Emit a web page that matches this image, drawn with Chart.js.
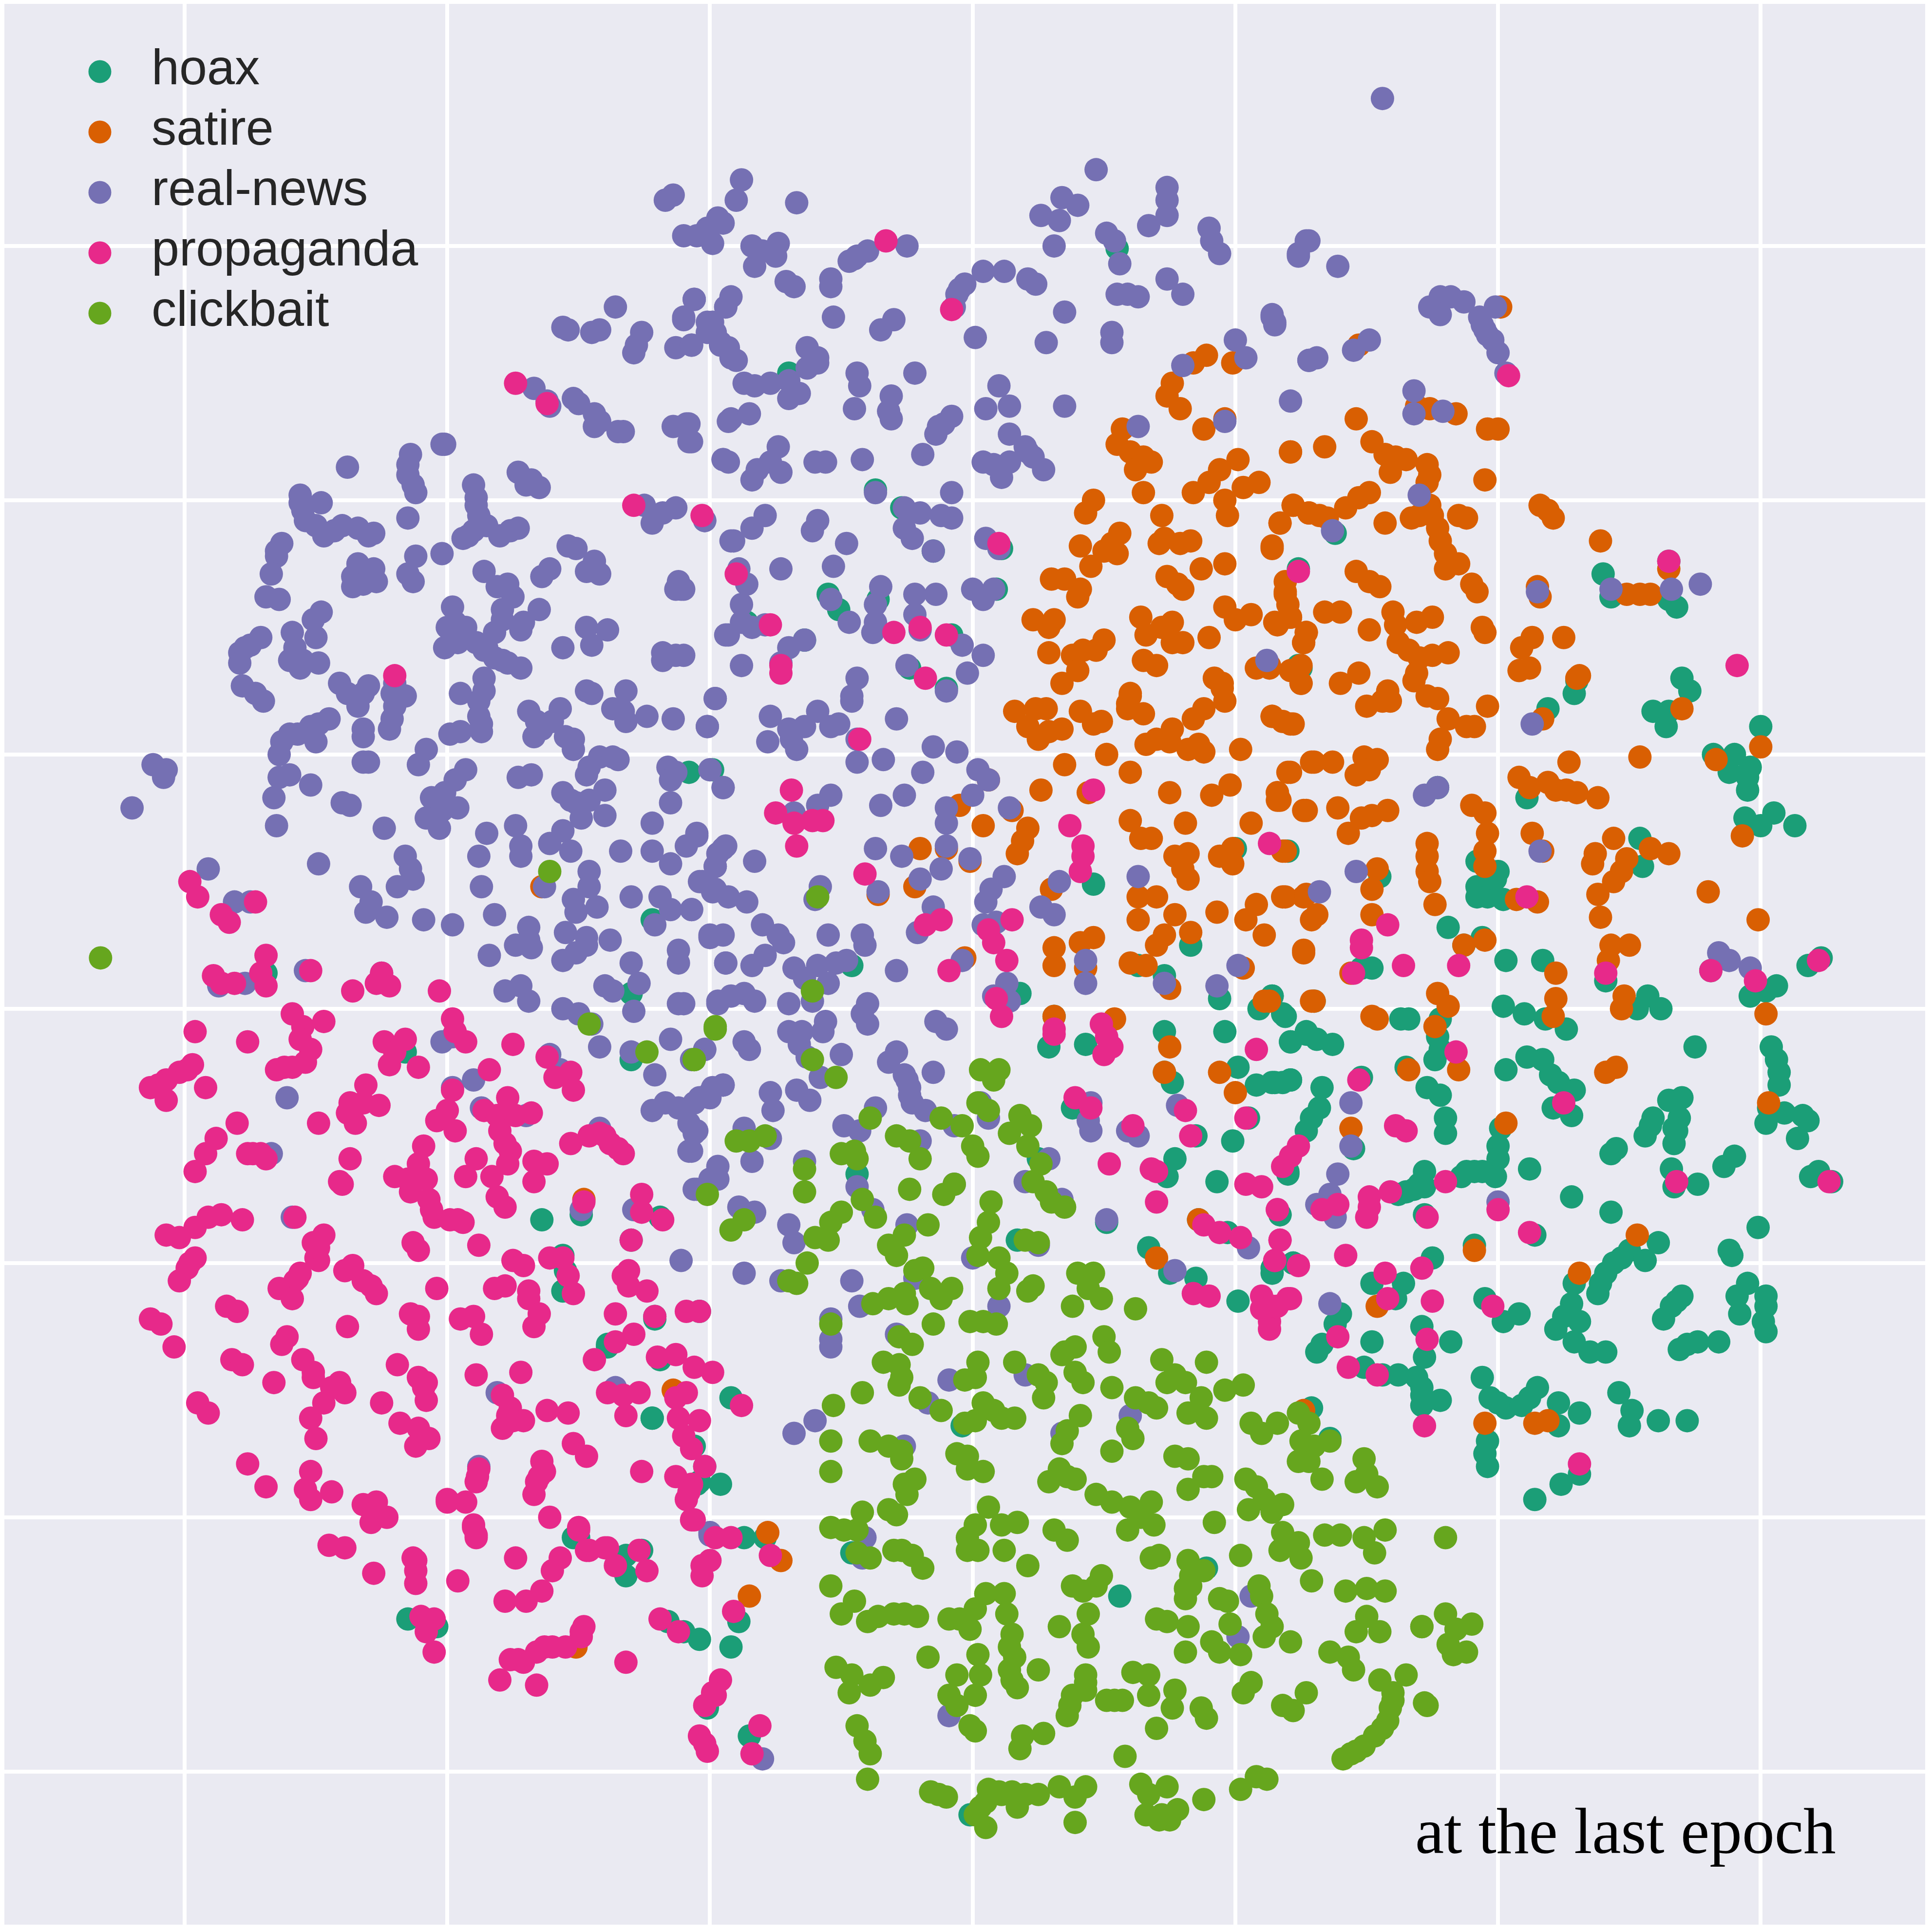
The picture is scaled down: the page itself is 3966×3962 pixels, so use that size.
<!DOCTYPE html>
<html><head><meta charset="utf-8">
<style>html,body{margin:0;padding:0;background:#fff}canvas{display:block}</style>
<script src="https://cdn.jsdelivr.net/npm/chart.js@4/dist/chart.umd.min.js"></script>
</head><body><canvas id="c" width="3966" height="3962"></canvas>
<script>
const seriesNames=["hoax","satire","real-news","propaganda","clickbait"];
const seriesColors=["#1B9E77","#D95F02","#7570B3","#E7298A","#66A61E"];
const xTickValues=[-30,-20,-10,0,10,20,30];
const yTickValues=[-30,-20,-10,0,10,20,30];
const hoax=[[5.5,29.9],[-7,25],[-3.7,20.4],[-2.7,19.7],[1.1,18.1],[-1.5,18],[12.4,17.3],[0.9,16.5],[-5.5,16.3],[-5.1,15.7],[-3.6,16.1],[-6.4,14.5],[-0.8,14.7],[-2.4,13.4],[-1,12.6],[12.4,13.5],[-8.6,15.2],
[13.8,18.7],[24,17.1],[24.3,16.2],[26.8,15.8],[26.5,16.1],[26.5,17.6],[27,13],[27.3,12.5],[25.9,11.7],[26.5,11.7],[26.4,11.1],[23,12.9],[22.9,12.4],[21.9,11.8],[30,11.1],[28.2,10],[29,10],[28.8,9.3],[29.6,9.5],[29.5,9.1],[29.5,8.6],[29.4,7.5],[30,7.2],[30.5,7.7],[31.3,7.2],[21.1,8.3],[17.7,8.7],[12,6.2],[25.4,6.7],[25.5,5.6],[20,5.4],[19.2,5.8],[12.5,13.4],[15.5,5.2],
[-10.8,9.3],[-9.9,9.4],[-12.2,3.5],[4.6,4.9],[6.3,1.7],[7.3,1.3],[8.3,2.5],[10,6.3],[-4.6,1.7],[1.8,0.6],[3.1,-0.3],[2.9,-1.5],[4.3,-1.4],[7.3,-0.9],[7.3,-2.5],[7.6,-2.9],[9.4,0.4],[10.9,0],[11.4,0.5],[11.8,-0.2],[9.6,-0.9],[12.1,-1.3],[12.7,-1],[10.1,-2.3],[10.8,-3],[11.5,-2.9],[12.1,-2.8],[3.8,-3.9],[9.9,-5.2],[10.5,-4.3],[8.5,-5],[7.7,-5.9],[7.4,-6.6],[9.3,-6.8],[12,-6.4],[2.5,-5.9],[1.7,-9.1],[8.6,-8.3],[9.7,-8.8],[6.7,-9.4],[7.5,-10.4],[8.5,-10.6],[11.4,-10.2],[12.2,-10],[10.1,-11.5],[-4.4,-6.5],[11.7,-8.1],[5.1,-8.4],
[-21.6,-1.7],[-13,0.6],[-13,-2],[-15.6,-9.7],[-15.5,-10.3],[-15.6,-11.1],[-13.9,-13.2],[-11.9,-8.2],[-16.4,-8.3],[-14.9,-8.1],[-12.2,-16.1],[-9.2,-15.3],[-9.6,-18.7],[-10.5,-18.7],[-10.6,-17.2],[-15.2,-20.8],[-12.6,-21.3],[-13.2,-21.5],[-13,-9.1],[-10.4,-11.9],[-12.1,-12.1],[-26.9,1.4],
[-21.5,-24],[-20.4,-24.3],[-11.6,-24.1],[-10.4,-24.8],[-11,-24.5],[-8.9,-24.1],[-9.2,-25.1],[-13.2,-22.3],[-8.7,-20.8],[-7.9,-20.8],[-8.5,-28.6],[-10.1,-27.5],[-15,-20.8],[-12.2,-16.1],[-10.2,-18],[-10.4,-18.6],[-13.9,-13.3],[-11.9,-13.8],[-12.1,-12.2],
[-0.1,-31.7],[5.6,-23.1],[8.9,-22],[-0.4,-16.4],[12.9,-15.7],[13.6,-16.9],[-4.6,-21.4],
[19.2,4.8],[19.2,4.4],[19.6,4.4],[20.2,4.3],[19.9,5.1],[18.1,3.2],[18.7,2.5],[19.4,2.8],[20.3,1.9],[21.7,1.9],[15.2,1.6],[14.8,1.6],[24.1,1.1],[11.4,0.5],[11.9,-0.3],[13,0.3],[20.2,0.1],[21,-0.2],[21.8,-0.4],[22.6,-0.8],[25.7,0.5],[25.3,0],[26.2,0],[29.6,0.5],[30.2,0.7],[30.6,0.9],[31.8,1.7],[32.3,2],[28.1,1.5],[16.3,-0.4],[16.6,-0.4],[17.8,-0.4],[17.7,-1.1],[17.8,-1.6],[17.6,-2],[12.7,-0.9],[12.1,-1.3],[13.1,-1.2],[13.7,-1.4],[16.5,-2.3],[14.8,-2.7],[12.1,-2.8],[11.4,-2.9],[13.3,-3.1],[13.2,-3.9],[12.7,-4.8],[17.3,-3.1],[17.8,-3.4],[18,-4.3],[18,-4.9],[20.3,-2.4],[21.1,-1.9],[21.7,-2],[22,-2.6],[22.3,-2.9],[22.9,-3.2],[22.1,-3.9],[22.8,-4.2],[27.5,-1.5],[30.4,-1.5],[30.6,-2],[30.7,-3],[30.3,-3.9],[30.2,-4.5],[30.9,-4.1],[31.6,-4.2],[31.8,-4.4],[31.4,-5.1],[26.5,-3.6],[27,-3.5],[26.9,-4.3],[25.9,-4.3],[25.6,-5],[26.7,-4.7],[26.7,-5.3],[24.3,-5.7],[24.5,-5.5],[29,-5.8],[28.6,-6.2],[26.6,-6.3],[26.7,-7],[27.6,-6.9],[31.9,-6.6],[32.2,-6.4],[32.7,-6.8],[20.1,-4.7],[20,-5.4],[20,-5.9],[19.9,-6.6],[19.1,-6.4],[18.6,-6.6],[17.2,-6.4],[17.2,-7],[16.5,-7.2],[16.2,-7.3],[21.2,-6.3],[22.8,-7.4],[24.3,-8],[29.9,-8.6],[28.8,-9.5],[28.9,-9.7],[26.1,-9.2],[25,-9.5],[24.4,-10],[24.1,-10.4],[23.8,-11.2],[25.6,-9.9],[21.4,-8.9],[19.1,-9.3],[22.9,-10.8],[22.8,-11.6],[22.5,-12.1],[22.2,-12.6],[23.1,-12.3],[22.9,-13.1],[23.5,-13.5],[24.1,-13.5],[27,-11.3],[26.6,-11.7],[26.3,-12.2],[29.5,-10.8],[29.1,-11.3],[29.2,-12],[30.2,-11.3],[30.2,-11.7],[30.1,-12.3],[30.2,-12.7],[26.9,-13.4],[27.6,-13.1],[28.4,-13.1],[19.5,-11.4],[20.2,-12.3],[20.8,-12],[17.5,-9.8],[15.2,-10.8],[16.4,-10.8],[16.1,-11.4],[11.4,-10.4],[12.2,-10],[14,-12],[13.8,-12.4],[13.3,-13.2],[13.1,-13.5],[15.2,-13.1],[17.1,-12.5],[17.2,-13.7],[18.2,-13.1],[14.9,-14.1],[15.6,-14.4],[16.2,-14.4],[16.9,-14.5],[17.1,-14.9],[17.1,-15.6],[17.8,-15.4],[19.4,-14.5],[19.7,-15.3],[20.3,-15.7],[20.9,-15.6],[21.5,-14.9],[22.3,-15.5],[22.3,-16.4],[23.1,-15.9],[24.6,-15.1],[25.1,-15.8],[25,-16.4],[26.1,-16.2],[27.2,-16.2],[19.6,-17],[19.5,-17.5],[19.6,-18],[23.1,-18.3],[22.4,-18.7],[21.4,-19.3],[14.5,-5.5],[12,-6.5],[11.7,-8.1],[17.2,-8.1],
[17,-6.9],[16.8,-7.1],[18.8,-6.4],[19.4,-6.4],[24.7,-9.8],[23.9,-10.8],[27.2,-13.2],[26.8,-11.5],[17.1,-15.2],[20,-15.5],[21.2,-15.3],[12.9,-4.3],[25.8,-4.6],[26.8,-4.8],[30.7,-2.5],[11.8,-2.9]];
const satire=[[-16.4,4.8],[14.6,23.2],[13.4,22.1],[12.1,21.9],[15.2,22.3],[15.7,21.8],[16.1,21.7],[16.5,21.6],[15.9,21.1],[17.3,21.4],[17.4,21],[17.3,20.7],[17.4,23.6],[16.9,23.7],[18.4,23.4],[19.6,22.8],[20,22.8],[19.5,20.8],[15.1,20.3],[14.7,20.1],[14.2,19.7],[15.7,19.1],[12.2,19.8],[12.8,19.5],[13.2,19.4],[13.5,19.3],[11.7,19.1],[16.7,19.3],[17,19.4],[17.4,19.8],[17.5,19.4],[17.7,18.9],[17.8,18.4],[18,17.9],[18,17.3],[18.5,17.5],[18.5,19.4],[18.8,19.3],[21.6,19.8],[21.9,19.6],[22.1,19.3],[23.9,18.4],[11.4,18.2],[14.6,17.2],[15.1,16.8],[15.5,16.6],[19,16.7],[19.2,16.4],[21.6,16.2],[21.5,16.6],[11.9,16.8],[11.9,16.3],[13.4,15.6],[14,15.6],[16,15.6],[16.1,15.1],[16.9,15.2],[17.5,15.4],[24.9,16.3],[25.4,16.3],[25.8,16.3],[26.5,17.3],[11.5,15.2],[12.1,15.4],[15.1,14.9],[12.7,14.8],[12.6,14.4],[19.4,15],[19.5,14.8],[21.3,14.6],[20.9,14.2],[22.5,14.6],[16.2,14.4],[16.6,14.1],[17,13.8],[17.5,13.9],[18.1,14],[20.8,13.3],[21.2,13.4],[12.5,13.5],[12.1,13.3],[12.5,12.8],[11.3,13.4],[14.7,13.2],[14,12.8],[16.9,13.2],[16.8,12.9],[17.3,12.3],[17.7,12.2],[15.8,12.5],[15.9,12.1],[15.6,12.1],[15,11.9],[23,13],[23.1,13.1],[19.6,11.9],[18.1,11.4],[11.4,11.5],[11.8,11.3],[12.2,11.2],[18.8,11.1],[19.1,11.1],[17.8,10.6],[17.7,10.2],[21.7,11.4],[27,11.8],[30,10.3],[28.3,9.8],[25.4,9.9],[22.7,9.7],[20.8,9.1],[21.2,8.7],[21.9,8.9],[22.2,8.6],[23,8.5],[22.6,8.6],[23.8,8.3],[13,9.7],[13.7,9.7],[12,9.3],[14.9,9.9],[15.4,9.8],[15.1,9.4],[14.6,9.2],[11.6,8.5],[11.6,8.2],[12.6,7.8],[13.9,7.9],[15.8,7.8],[15.2,7.6],[14.8,7.5],[14.3,6.9],[19,8],[19.5,7.7],[19.6,6.9],[17.3,6.5],[17.3,6],[17.3,5.4],[19.5,6.2],[19.5,5.6],[21.3,6.9],[21.7,6.2],[11.8,6.2],[23.7,6.1],[23.6,5.7],[24.4,6.7],[24.9,5.9],[25.8,6.3],[26.5,6.1],[24.7,5.4],[29.3,6.8],[15.4,5.5],[14.7,26.1],[20.1,27.6],
[8.9,25.7],[8.4,25.4],[9.9,25.4],[7.6,24.6],[7.4,24.1],[7.9,23.6],[8.8,22.8],[9.6,23.2],[12.1,21.9],[5.7,22.8],[5.5,22.2],[6,21.9],[6.5,21.7],[6.8,21.5],[6.2,21.2],[10.1,21.6],[9.4,21.2],[9,20.7],[8.4,20.3],[10.9,20.7],[10.3,20.5],[6.5,20.3],[9.6,20],[9.7,19.4],[4.6,20],[4.3,19.5],[12.2,19.8],[12.8,19.5],[11.7,19.1],[7.2,19.4],[7.3,18.5],[7.1,18.3],[7.9,18.3],[8.3,18.4],[5.6,18.7],[5.3,18.3],[5.5,17.9],[5,18],[4.1,18.2],[4.5,17.4],[11.4,18.1],[8.7,17.3],[9.6,17.5],[7.4,17],[7.8,16.7],[8,16.5],[11.9,16.4],[12,15.9],[3,16.9],[3.5,16.9],[4.1,16.5],[4,16.2],[2.3,15.3],[3.1,15.3],[2.9,15],[6.4,15.4],[7.6,15.2],[7.2,15],[6.6,14.7],[7.6,14.4],[8,14.4],[9.6,15.8],[10,15.3],[10.6,15.5],[9,14.6],[11.6,15.1],[12.1,15.4],[12.7,14.8],[12.6,14.4],[5,14.5],[4.7,14.1],[4.2,14.1],[3.8,13.9],[2.9,14],[4,13.3],[3.4,12.8],[6.5,13.7],[7,13.5],[10.8,13.4],[11.3,13.5],[12.2,13.3],[12.5,12.8],[9.2,13],[9.5,12.6],[6,12.3],[5.9,12],
[1.6,11.7],[2.4,11.8],[2.8,11.8],[2.1,11.1],[2.5,10.6],[2.9,10.9],[3.4,11],[4.1,11.7],[4.6,11.2],[4.9,11.3],[6,12.4],[5.9,11.8],[6.5,11.6],[6.6,10.4],[7,10.6],[7.5,10.5],[7.6,11],[8.2,10.2],[8.6,10.4],[8.8,10.1],[8.4,11.4],[8.8,11.8],[9.5,12.8],[9.6,12.1],[10.2,10.2],[11.4,11.5],[12.1,11.2],[5.1,10],[3.5,9.6],[6,9.3],[2.6,8.6],[4.4,8.5],[7.5,8.5],[9.1,8.4],[9.8,8.8],[12.1,9.3],[12.9,9.7],[11.6,8.5],[11.7,8.2],[12.7,7.8],[0.6,9],[-0.5,8],[1.5,7.8],[0.4,7.2],[2.1,7.1],[1.9,6.6],[1.7,6.1],[-2,6.3],[-1,6.3],[-0.1,5.8],[-2.2,4.8],[-3.6,4.5],[6,7.4],[6.4,6.7],[6.8,6.7],[8.1,7.3],[10.6,7.3],[7.7,6],[8.2,6.1],[8,5.5],[8.2,5.1],[9.4,6],[9.9,6.3],[9.9,5.7],[11.9,6.2],[6.3,4.4],[7,4.4],[6.3,3.5],[7.7,3.7],[9.3,3.8],[10.8,4.1],[10.4,3.5],[11.9,4.4],[12.6,4.4],[12.9,3.5],[7.3,2.9],[7,2.5],[6.6,1.7],[6,1.8],[8.3,3],[11.1,2.9],[3,4.7],[4.6,2.8],[4.1,2.6],[3.1,2.4],[3.1,1.7],[4.3,1.6],[12.6,2.3],[10.3,1.6],[7.5,0.8],[-0.3,2],[11.1,0.3],[9.4,-2.5],[10,-3.3],[7.5,-1.5],[7.3,-2.5],[5.4,-0.4],[3.1,-0.3],[7,-9.8],[8.6,-8.3],[12.9,0.3],
[11.8,4.4],[12.7,4.5],[13.1,3.7],[15.2,4.7],[15.2,3.7],[17.4,5],[17.6,4.1],[12.6,2.2],[14.4,1.4],[11.3,0.3],[13,0.3],[18.7,2.5],[19.5,2.7],[20.7,4.3],[21.5,4.2],[23.8,4.5],[24.4,5],[23.9,3.6],[28,4.6],[29.9,3.5],[24.3,2.5],[25,2.5],[24.2,1.9],[22.2,1.4],[22.2,0.4],[22.1,-0.3],[24.8,0.5],[24.7,0],[15.2,-0.3],[15.4,-0.4],[17.7,0.6],[18.1,0.1],[17.6,-0.7],[18.5,-2.4],[16.6,-2.4],[14.4,-4.7],[30.2,-0.2],[24.1,-2.5],[24.5,-2.3],[30.3,-3.7],[20.3,-4.5],[19.1,-9.5],[25.3,-8.9],[23.1,-10.4],[15.4,-11.7],[19.5,-16.3],[21.4,-16.3],[21.9,-16.2],
[-11.4,-15],[-7.8,-20.6],[-7.3,-21.7],[-8.5,-23.1],[-15.1,-25.1],[12.6,-15.8],[-14.8,-7.5]];
const realNews=[[-13.6,27.6],[-15.6,26.8],[-15.4,26.7],[-14.5,26.6],[-14.2,26.7],[-12.6,26.6],[-12.8,26.1],[-12.9,25.8],[-11.3,26],[-10.7,26.1],[-10.6,27.9],[-11,27.1],[-10.1,27],[-10.1,26.6],[-9.6,26.2],[-9.2,25.6],[-9.4,27.6],[-16.7,24.4],[-16.2,23.9],[-16.1,23.7],[-15.2,24],[-15,23.8],[-14.4,23.4],[-14.2,23.1],[-14.4,22.9],[-13.5,22.7],[-13.3,22.7],[-11.4,22.9],[-10.9,23],[-10.8,22.3],[-9.2,23.2],[-9.5,21.6],[-20.1,22.2],[-20.2,22.2],[-23.8,21.3],[-21.4,21.8],[-21.5,21],[-21.2,20.3],[-25.6,20.2],[-24.8,19.9],[-25.5,19.6],[-25.4,19.2],[-25,19],[-24.7,18.6],[-24.3,18.8],[-24,19],[-23.4,18.9],[-23,18.6],[-22.8,18.7],[-21.5,19.3],[-19,20.6],[-18.9,20.1],[-18.8,19.4],[-18.5,19],[-19,18.8],[-19.4,18.5],[-18,18.6],[-17.6,18.8],[-17.3,18.9],[-17.3,21.1],[-16.8,20.8],[-16.5,20.5],[-12.5,19.8],[-12.2,19.1],[-11.8,19.5],[-11.3,19.7],[-10.2,19.2],[-9.2,18.4],[-26.3,18.3],[-26.5,17.8],[-26.7,17.1],[-26.9,16.2],[-26.4,16.1],[-23.4,17.5],[-22.8,17.3],[-23.6,17],[-23.6,16.6],[-23.2,16.7],[-22.7,16.8],[-21.2,17.8],[-20.2,17.9],[-21.5,17.1],[-21.3,16.8],[-18.6,17.2],[-17.7,16.7],[-18.1,16.6],[-17.5,16.2],[-17.9,15.7],[-17.9,15.3],[-16.5,15.7],[-16.1,17.3],[-16.4,17],[-15.4,18.2],[-15.1,18.1],[-14.4,17.6],[-14.7,17.2],[-14.2,17.1],[-11.2,16.8],[-11.3,16.5],[-11.1,16.5],[-9.3,14.7],[-24.8,15.6],[-25.1,15.3],[-25,14.6],[-25.9,14.8],[-25.8,14.2],[-27.1,14.6],[-27.5,14.3],[-27.9,14],[-27.9,13.6],[-26,13.7],[-25.5,13.7],[-25.6,13.4],[-24.9,13.6],[-19.8,15.8],[-19.7,15.2],[-19.3,15],[-20.1,14.2],[-19.6,14.4],[-18.9,14.4],[-18.2,14.8],[-18.6,14.1],[-18.2,13.8],[-17.7,13.6],[-17.2,13.4],[-17.2,14.9],[-17.1,15.2],[-14.7,15],[-13.9,14.9],[-14.5,14.3],[-15.6,14.2],[-11.8,14],[-11.8,13.7],[-11.3,13.9],[-27.8,12.7],[-27.3,12.4],[-27,12.1],[-24.1,12.8],[-23.8,12.4],[-23,12.7],[-23.2,12.4],[-23.4,11.9],[-22,12.8],[-21.6,12.3],[-22,11.9],[-22.1,11.4],[-22.2,11],[-18.6,13],[-18.6,12.5],[-19.5,12.4],[-18.8,12.1],[-18.8,11.5],[-18.7,10.9],[-19.9,10.8],[-19.5,10.9],[-14.7,12.5],[-14.5,12.4],[-13.2,12.5],[-13.7,11.8],[-13.3,11.7],[-13.2,11.3],[-12.4,11.5],[-11.4,11.4],[-9.8,12.2],[-10.1,11.1],[-16.9,11.7],[-16.6,11.3],[-15.7,11.8],[-16,11.3],[-16.4,11],[-16.7,10.7],[-15.5,10.7],[-15.2,10.6],[-15.2,10.2],[-24.5,11.4],[-25.2,11.1],[-25.7,10.8],[-25,10.5],[-26.3,10.5],[-26.4,10],[-23.2,11],[-23.2,10.7],[-20.8,10.2],[-21.1,9.6],[-23,9.7],[-23.2,9.7],[-31.2,9.6],[-30.7,9.4],[-30.8,9.1],[-32,7.9],[-26,9.2],[-26.4,9.1],[-25.2,8.8],[-26.6,8.3],[-24,8.1],[-23.7,8],[-26.5,7.2],[-22.4,7.1],[-19.3,9.4],[-19.7,9],[-20.1,8.5],[-20.6,8.3],[-19.6,7.9],[-20.8,7.5],[-20.3,7.1],[-14.2,9.9],[-13.7,9.9],[-14.6,9.5],[-13.5,9.8],[-17.3,9.1],[-16.8,9.2],[-14,8.6],[-15.6,8.5],[-15.1,8.1],[-14.6,8.2],[-14.9,7.5],[-14,7.6],[-15.6,7],[-15.3,6.2],[-16.1,6.5],[-11.6,9.5],[-11.3,9.3],[-11.5,9],[-11.5,8.1],[-10,9.4],[-9.5,8.7],[-17.4,7.2],[-17.2,6.4],[-17.2,6],[-18.5,6.9],[-18.8,6],[-13.4,6.2],[-12.2,7.3],[-12.2,6.2],[-11.5,5.7],[-10.9,6.4],[-10.5,6.8],[-14.6,5.4],[-14.6,4.8],[-9.5,6.3],[-9.8,5.6],[-10.3,5],[-9.9,4.6],[-13,4.4],[-11.9,4.4],[-15.2,4.3],[-14.3,4],[-15.1,3.8],[-11.5,3.9],[-10.7,3.9],[-24.9,5.7],[-21.6,6],[-21.4,5.5],[-21.3,5.1],[-21.9,4.8],[-18.7,4.8],[-16.3,4.8],[-23.3,4.8],[-22.9,4.2],[-23.1,3.8],[-22.3,3.6],[-20.9,3.5],[-19.8,3.3],[-18.2,3.7],[-16.9,3.2],[-29.1,5.5],[-28.1,4.2],[-27.5,4.2],[-11.7,31.8],[-11.4,32],
[-8.8,32.6],[-9,31.8],[-6.7,31.7],[-9.7,31.1],[-9.5,30.9],[-10.1,30.7],[-10.5,30.4],[-9.9,30.1],[-11,30.4],[-8.4,30],[-7.4,30.1],[-7.5,29.6],[-8.3,29.2],[-7.1,28.6],[-6.8,28.4],[-5.4,28.7],[-5.4,28.4],[-5.3,27.2],[-4.7,29.4],[-4.4,29.6],[-4,29.8],[-2.5,30],[-10.6,27.9],[-9.2,28],[-9.4,27.6],[-11,27.2],[-9.9,27],[-9.8,26.6],[-10.7,26.1],[-9.6,26.1],[-9,25.5],[-3,27.1],[-3.5,26.7],[-6.3,26],[-5.9,25.6],[-5.9,25.4],[-6.3,25.2],[-4.4,25],[-4.3,24.5],[-2.2,25],[-7,24.7],[-7.7,24.6],[-8.7,24.6],[-8.3,24.5],[-6.6,24.2],[-7,24],[-3.1,24.1],[-3.2,23.5],[-3.1,23.2],[-4.5,23.6],[-9.3,23.1],[-8.5,23.4],[-10.8,23],[-10.7,22.3],[-0.8,23.3],[-1.1,23],[-1.4,22.6],[-1.9,21.8],[1,24.5],[1.4,23.7],[0.5,23.6],[1.4,22.6],[2,22.1],[2.3,21.7],[2.7,21.2],[0.4,21.5],[0.8,21.4],[1.4,21.5],[1.1,20.9],[3.5,23.7],[-7.4,22.1],[-7.7,21.5],[-7.3,21.1],[-8.2,21.2],[-8.4,20.8],[-9.5,21.6],[-9.3,21.5],[-6,21.5],[-5.6,21.5],[-4.2,21.6],[-0.8,20.3],[-3.7,20.3],[-2.6,19.7],[-2,19.5],[-1.2,19.4],[-0.8,19.3],[-2.6,18.9],[-2.3,18.5],[-7.9,19.4],[-8.4,18.9],[-9.1,18.4],[-5.9,19.2],[-6.1,18.8],[-10.2,19.2],[-4.8,18.3],[0.5,18.5],[-1.5,18],[1,18.1],[-8.9,17.3],[-8.6,16.7],[-7.3,17.3],[-5.3,17.4],[-11,16.5],[-3.5,16.6],[-3.7,15.9],[-3.7,15.2],[-3.8,14.8],[-4.7,15.2],[-5.4,16.1],[-2.2,16.3],[-1.4,16.3],[-2.2,15.5],[-2,14.9],[0,16.5],[0.8,16.5],[0.4,16.1],[-8.8,15.9],[-8.8,15.2],[-9.4,14.7],[-8.4,15],[-7.9,15.1],[-7,14.2],[-6.4,14.5],[-7.3,13.6],[-0.4,14.3],[0.4,13.9],[-0.2,13.2],[-8.8,13.5],[-11,13.9],[-2.5,13.5],[-1,12.5],[-4.4,13],[-4.6,12.3],[-9.8,12.2],[4.7,33],[3.4,31.9],[2.6,31.2],[3.3,31],[4,31.6],[3.1,30],[7.4,32.3],[7.4,31.8],[7.4,31.2],[6.7,30.8],[9,30.7],[9.1,30.2],[9.4,29.7],[12.8,30.2],[12.4,29.7],[5.1,30.5],[5.4,30.2],[5.6,29.3],[7.4,28.7],[8,28.1],[5.5,28.1],[5.9,28.1],[6.3,28],[-0.3,28.5],[-0.6,28.1],[0.4,29],[1.2,29],[-0.7,27.6],[2.1,28.7],[2.4,28.5],[3.5,27.4],[2.8,26.2],[0.1,26.4],[5.3,26.6],[5.3,26.2],[11.4,27.3],[11.5,27],[10,26.3],[10.4,25.6],[8,25.3],[12.8,25.5],[12.1,23.9],[6.3,22.9],[9.6,23.1],[11.2,13.7],[15.6,35.8],[12.7,30.2],
[12.4,29.6],[13.9,29.2],[17.8,28],[18.2,28],[18.7,27.8],[17.4,27.6],[17.8,27.3],[19.9,27.6],[19.3,27.2],[19.5,26.7],[19.8,26.3],[20,25.8],[20.3,25],[11.4,27.2],[11.5,26.9],[13.1,25.6],[12.8,25.5],[15.1,26.3],[14.5,25.9],[16.8,24.3],[16.8,23.4],[17.9,23.5],[17,20.2],[13.7,18.8],[21.5,16.4],[27.7,16.7],[24.3,16.5],[26.6,16.5],[21.3,11.2],[21.6,6.2],[17.2,8.4],[17.7,8.7],[14.6,5.4],
[-10.1,11.1],[-7.7,11.5],[-7,11],[-6.4,11.1],[-5.9,11.7],[-5.4,11.1],[-5.1,11.2],[-6.9,10.6],[-6.7,10.2],[-7.8,10.5],[-4.6,12.1],[-2.9,11.4],[-4.4,10.6],[-4.4,9.7],[-3.4,9.8],[-1.5,10.3],[-0.6,10.1],[0.2,9.4],[0.6,9],[-1.9,9.3],[-10,9.4],[-9.5,8.7],[-5.4,8.4],[-5.9,8],[-6.8,7.7],[-3.5,8],[-2.6,8.4],[0,8.4],[-1,7.9],[-1,7.3],[1.4,7.9],[-10.5,6.9],[-9.4,6.4],[-9.7,6.1],[-9.8,5.6],[-8.3,5.8],[-3.7,6.3],[-2.7,6],[-1,6.4],[-0.1,5.9],[-1.2,5.5],[-2,5.1],[-3.6,4.6],[-10.4,5],[-9.8,4.7],[-9.3,4.4],[-8.6,4.2],[-10.7,3.9],[-5.8,4.8],[-6,4.3],[1.2,5.2],[0.7,4.7],[0.5,4.2],[-1.5,4],[-2.1,3],[0.4,3.3],[0.9,3.4],[2.6,4],[3.1,3.7],[3.3,5],[6.3,5.2],[-8,3.3],[-7.4,2.9],[-7.2,2.6],[-10,2.9],[-9.5,2.9],[-5.5,2.9],[-4.2,2.9],[-4.1,2.5],[-7.9,2.1],[-8.4,1.7],[-9.4,1.8],[-6.8,1.6],[-6.4,1.2],[-5.9,1.7],[-5.2,1.8],[-4.8,1.9],[-5.5,1],[-2.9,1.5],[-0.4,1.9],[4.3,1.9],[4.3,1],[10.1,1.7],[7.3,1],[9.3,0.9],[1.3,1],[0.8,0.5],[1.4,0.3],[-8.7,0.6],[-9.2,0.5],[-9.7,0.2],[-8.3,0.3],[-7,0.2],[-6.1,0.3],[-4,0.2],[-4.2,-0.2],[-4,-0.6],[-11,0.2],[-1.4,-0.5],[-1,-0.8],[-5.6,-0.5],[-5.7,-0.9],[-7,-0.9],[-6.5,-0.9],[-6.6,-1.4],[-8.7,-1.3],[-8.5,-1.6],[-10.2,-1.6],[-5,-1.8],[-6.3,-1.9],[-5.8,-2.7],[-2.9,-1.7],[-3.2,-2.1],[-2.6,-2.6],[-2.4,-3.1],[-2.3,-3.7],[-1.8,-4],[-0.7,-4.6],[-1.5,-2.5],[-9.5,-3],[-10,-3.3],[-10.6,-3.7],[-7.7,-3.3],[-6.7,-3.2],[-6.2,-3.6],[-7.6,-4],[-10.5,-4.8],[-10.8,-5.6],[-3.7,-3.9],[0.3,-3.7],[0.6,-4.3],[4.5,-3.7],[4.4,-4.4],[4.5,-4.8],[-8.7,-4.7],[-7.7,-5.1],[-8.4,-6],[-4.9,-4.6],[-4.3,-4.8],[-2,-5.2],[-9.7,-6.2],[-10,-6.7],[-10.5,-7.1],[-6.4,-6],[2.9,-5.9],[3.4,-7.5],[2,-6.8],[-0.7,-6.9],[-4.4,-7],[-3.8,-7.9],[-8.9,-7.8],[-8.3,-8],[-7,-8.5],[-6.8,-9.2],[-2.5,-8.5],[5.1,-8.3],[0,-9.8],[7.8,-3.8],[6.3,-5],[5.9,-4.8],[2.5,-9.3],[10.5,-9.4],[-8.7,-10.4],[-7.3,-10.7],[-4.6,-10.7],[-2.2,-10.6],[-4.3,-11.7],[1,-11.7],[7.7,-10.3],
[-18.4,2.1],[-17.4,2.5],[-16.9,2.7],[-16.8,2.4],[-15.5,3],[-14.7,2.8],[-14.7,2.5],[-13.8,2.7],[-15.6,1.9],[-15.1,2.2],[-11.2,2.3],[-11.2,1.8],[-13,1.8],[-12.7,1],[-14,0.9],[-13.7,0.7],[-17.8,0.7],[-17.2,0.9],[-16.9,0.3],[-10,2.8],[-9.4,1.8],[-15.6,0],[-15,-0.2],[-14.5,-0.6],[-12.9,-0.1],[-11.2,0.2],[-9.7,0.3],[-14.2,-1.5],[-13,-1.7],[-12.1,-2.6],[-11.5,-1.2],[-10.2,-1.6],[-10.7,-2],[-15.7,-2.4],[-16.1,-1.8],[-26.1,-3.5],[-20.2,-1.3],[-19.8,-1.1],[-19,-2.8],[-19.8,-3.1],[-12.2,-4],[-11.7,-3.7],[-11.2,-3.9],[-10.4,-3.5],[-9.9,-3.1],[-9.5,-3],[-10.8,-4.5],[-10.6,-4.9],[-10.7,-5.6],[-14.2,-4.7],[-18.7,-3.9],[-17,-4.2],[-26.7,-5.7],[-9.7,-6.7],[-10.6,-7.1],[-28.7,0.9],[-27.7,1],[-25.4,1.5],[-22.5,1.4],[-25.9,-8.2],[-12.9,-7.9],[-11.1,-9.9],[-18.8,-18],[-18.1,-15.1],[-13.7,-15],[-10,-20.7],[-14.9,-7.9],[-12.1,3.3],
[-8,-29.5],[-10,-20.6],[-13.6,-14.9],[-5.4,-13.3],[-5.4,-13],[-6.8,-16.7],[-6,-16.2],[-5.4,-12.2],[-4.1,-20.8],[-4.2,-21.6],[-2.9,-12.8],[-0.9,-14.6],[2,-14.4],[-1.7,-15.5],[6,-16],[3.4,-16.7],[-2.6,-17.2],[10.6,-23.1],[10.1,-24.7],[-0.9,-27.8],
[13.2,4.6],[14.4,-3.7],[14.4,-5.4],[13.9,-6.5],[28.4,2.2],[28.8,1.9],[29.6,1.6],[20,-7.6],[13.6,-11.6],[13.1,-7.7],[13.6,-7.3],[13.8,-8.2],
[-21.5,21.4],[-21.3,20.6],[-25.6,19.9],[-18.9,19.8],[-26.5,18],[-19.2,18.6],[-17,20.6],[-27.7,14.2],[-20,15],[-18.5,14.2],[-17.9,13.7],[-22.1,12.4],[-18.7,11.2],[-24.9,11.2],[-26,10.8],[-20.2,7.8],[-14.7,9.2],[-15.3,8.2],[-1.3,22.9],[2.1,21.9],[-8,29.8],[-4.5,29.5],[-0.5,28.3],[19.4,26.9],[19.6,26.5],[-9.3,26],[-2.5,-2.8],[-2.4,-3.4],[-10,-3.5]];
const propaganda=[[-29.8,5],[-29.5,4.4],[-27.3,4.2],[-28.6,3.7],[-28.3,3.4],[-26.9,2.1],[-27.1,1.4],[-26.9,0.9],[-28.9,1.3],[-28.6,1],[-28.1,1],[-25.2,1.5],[-23.6,0.7],[-22.5,1.4],[-22.7,1],[-22.2,0.9],[-20.3,0.7],[-25.9,-0.2],[-25.5,-0.7],[-24.7,-0.5],[-25.6,-1.2],[-25.2,-1.6],[-25.4,-2.1],[-25.9,-2.3],[-26.5,-2.4],[-29.6,-0.9],[-27.6,-1.3],[-29.7,-2.2],[-30.2,-2.5],[-30.7,-2.8],[-31.3,-3.1],[-30.7,-3.6],[-29.2,-3.1],[-22.4,-1.3],[-21.6,-1.2],[-22,-1.7],[-22.2,-2.2],[-21.1,-2.3],[-19.8,-0.4],[-19.7,-0.9],[-19.3,-1.3],[-17.5,-1.4],[-18.4,-2.4],[-19.8,-3.2],[-16.2,-1.9],[-15.9,-2.7],[-15.3,-2.5],[-15.2,-3.2],[-23.1,-3],[-23.7,-3.7],[-23.8,-4.1],[-23.2,-3.7],[-22.6,-3.8],[-23.5,-4.5],[-24.9,-4.5],[-28,-4.5],[-20,-4],[-20.4,-4.4],[-19.7,-4.8],[-17.7,-3.5],[-18.6,-4],[-18.1,-4.2],[-17.4,-4.2],[-16.8,-4.1],[-18,-4.8],[-17.8,-5.3],[-17.6,-5.6],[-17.7,-6.1],[-15.3,-5.3],[-14.6,-5],[-14.2,-4.9],[-13.8,-5.3],[-13.3,-5.7],[-28.8,-5.1],[-29.2,-5.7],[-29.6,-6.4],[-27.6,-5.7],[-27.1,-5.7],[-26.9,-5.9],[-23.7,-5.9],[-24,-6.9],[-20.9,-5.4],[-21.1,-6.1],[-22,-6.6],[-21.5,-6.7],[-20.8,-6.7],[-21.4,-7.2],[-18.9,-5.9],[-19.3,-6.6],[-18.3,-6.6],[-16.7,-6],[-16.2,-6.1],[-16.7,-6.8],[-18.1,-7.4],[-17.8,-7.8],[-14.8,-7.6],[-12.6,-7.3],[-12.6,-8],[-11.8,-8.3],[-25.8,-8.2],[-20.7,-7.5],[-20.5,-8.2],[-19.9,-8.3],[-19.4,-8.4],[-27.8,-8.3],[-28.6,-8.1],[-29.1,-8.2],[-29.6,-8.6],[-30.2,-9],[-30.7,-8.9],[-24.7,-8.9],[-25.1,-9.2],[-25,-9.8],[-24.9,-9.9],[-21.3,-9.2],[-21.1,-9.5],[-18.8,-9.3],[-13,-9.1],[-29.6,-9.8],[-29.9,-10.2],[-30.2,-10.7],[-17.5,-9.9],[-17.1,-10.1],[-16.1,-9.8],[-15.6,-9.8],[-15.4,-10.5],[-15.2,-11.2],[-13.1,-10.3],[-13.3,-10.5],[-13.1,-10.9],[-12.4,-11.1],[-25.6,-10.4],[-25.8,-10.7],[-26.4,-11],[-25.9,-11.4],[-23.9,-10.3],[-23.6,-10.1],[-23.2,-10.7],[-22.7,-11.2],[-20.4,-11],[-18.2,-11],[-17.8,-10.9],[-16.9,-11.1],[-16.9,-11.4],[-28.4,-11.7],[-28,-11.9],[-31.3,-12.2],[-30.9,-12.4],[-30.4,-13.3],[-21.4,-12],[-21.1,-12.1],[-21.1,-12.6],[-23.8,-12.5],[-19.5,-12.2],[-19,-12.1],[-18.7,-12.8],[-16.7,-12.5],[-13.6,-12],[-12.1,-12.1],[-10.9,-11.9],[-10.4,-11.9],[-26.1,-12.9],[-26.3,-13.2],[-12.9,-12.8],[-13.6,-13.1],[-14.4,-13.8],[-28.2,-13.8],[-27.8,-14],[-25.5,-13.8],[-25.1,-14.3],[-26.6,-14.7],[-12,-13.7],[-11.3,-13.6],[-10.6,-14.1],[-9.9,-14.3],[-21.9,-14],[-21.1,-14.5],[-20.8,-14.7],[-20.8,-15.4],[-18.9,-14.4],[-17.2,-14.3],[-24.1,-14.7],[-24.4,-14.9],[-23.9,-15.1],[-24.7,-15.5],[-29.5,-15.5],[-29.1,-15.9],[-22.5,-15.5],[-17.9,-15.2],[-17.6,-15.7],[-17.5,-16.2],[-17.1,-16.2],[-17.9,-16.5],[-16.2,-15.8],[-15.4,-15.9],[-13.9,-15.1],[-12.7,-15.1],[-13.3,-15.2],[-13.2,-16],[-11.3,-15.3],[-10.9,-15.1],[-11.2,-16.1],[-10.4,-16.2],[-11,-16.8],[-10.7,-17.3],[-25.2,-16.1],[-25,-16.9],[-21.8,-16.3],[-21.1,-16.5],[-20.7,-16.9],[-21.2,-17.2],[-15.2,-17.1],[-14.7,-17.6],[-27.6,-17.9],[-26.9,-18.8],[-25.2,-18.2],[-25.4,-18.9],[-25.2,-19.3],[-24.4,-19],[-18.8,-18.1],[-18.9,-18.6],[-20,-19.3],[-19.3,-19.4],[-16.4,-17.8],[-16.3,-18.2],[-16.6,-18.6],[-16.7,-19.1],[-12.6,-18.2],[-11.3,-18.4],[-10.2,-18],[-10.7,-18.7],[-10.9,-19.3],[-10.6,-20.1],[-23.2,-19.5],[-22.7,-19.4],[-22.3,-20],[-22.9,-20.2],[-16.1,-20],[-15,-20.5],[-13.9,-21.2],[-14.6,-21.3],[-19,-20.3],[-18.9,-20.7],[-24.5,-21.1],[-23.9,-21.2],[-21.3,-21.6],[-17.4,-21.6],[-12.7,-21.3],[-9.8,-20.8],
[-22.8,-22.2],[-21.2,-21.7],[-21.2,-22.1],[-21.2,-22.6],[-19.6,-22.5],[-19,-20.4],[-18.9,-20.8],[-15.7,-21.6],[-16,-22.1],[-15,-20.4],[-14.7,-21.3],[-14,-21.2],[-13.6,-21.9],[-12.4,-22.1],[-10.3,-21.9],[-10,-21.7],[-10.3,-22.3],[-10.7,-20.1],[-9.2,-20.8],[-7.7,-21.5],[-17.8,-23.3],[-17,-23.3],[-16.4,-22.9],[-9.1,-23.7],[-21,-23.9],[-20.5,-24],[-20.8,-24.5],[-20.5,-25.3],[-14.8,-24.3],[-14.9,-24.7],[-15.5,-25.1],[-16.3,-25.1],[-16.6,-25.3],[-17.1,-25.7],[-17.6,-25.6],[-11.9,-24],[-11.2,-24.5],[-18,-26.4],[-16.6,-26.6],[-13.2,-25.7],[-9.6,-26.4],[-9.9,-26.9],[-10.2,-27.4],[-8.1,-28.2],[-10.4,-28.6],[-10.1,-29.2],[-8.4,-29.3],[-8.8,-15.6],
[21.1,4.4],[15.8,3.3],[14.8,2.7],[14.8,2.4],[14.5,1.4],[16.4,1.7],[18.5,1.7],[24.1,1.4],[28.1,1.5],[29.8,1.1],[32.2,1.9],[18.4,-1.7],[22.5,-3.7],[14.7,-2.8],[16.1,-4.6],[16.5,-4.8],[12.4,-5.4],[12.1,-5.8],[11.8,-6.2],[18,-6.8],[15.9,-7.2],[15.1,-7.4],[15.1,-7.8],[15,-8.2],[13.3,-7.9],[13.9,-7.7],[11.6,-7.9],[17.3,-8.2],[20,-7.9],[21.2,-8.8],[26.8,-6.8],[32.6,-6.8],[11.7,-9.1],[11.5,-9.9],[12.4,-10.1],[14.2,-9.7],[17.1,-10.2],[15.7,-10.4],[15.8,-11.4],[17.5,-11.5],[19.8,-11.7],[12.1,-11.4],[11.6,-11.7],[11.3,-12.3],[13.9,-12.9],[17.3,-13],[14.3,-14.1],[15.4,-14.4],[17.2,-16.4],[23.1,-17.9],[11.3,-12.6],
[-4.3,10.6],[-6.9,8.6],[-7.5,7.7],[-6.8,7.3],[-6.1,7.4],[-5.7,7.4],[-6.7,6.4],[-4.1,5.3],[-1.8,3.3],[-1.2,3.5],[0.6,3.1],[0.8,2.6],[1.5,3.5],[1.3,1.9],[-0.9,1.5],[4.6,8.6],[3.7,7.2],[4.2,6.4],[4.2,6],[4.1,5.4],[11.3,6.5],[0.9,0.4],[1.1,-0.3],[3.1,-0.8],[3.1,-1],[4.9,-0.6],[5.1,-1.1],[5.3,-1.5],[5,-1.8],[10.8,-1.6],[3.9,-3.5],[4.5,-3.9],[8.1,-4],[6.1,-4.6],[8.3,-5],[10.4,-4.3],[5.2,-6.1],[6.8,-6.3],[7,-6.4],[7,-7.6],[10.4,-6.9],[11,-7],[11.6,-7.9],[8.8,-8.5],[9.4,-8.8],[10.2,-9],[11.7,-9.1],[11.5,-9.9],[8.4,-11.2],[9,-11.3],[11,-11.3],[11,-11.8],[12,-11.4],[11.4,-11.7],
[-3.3,30.2],[-0.8,27.5],[-10.3,19.4],[1,18.3],[-9,17.1],[-7.7,15.1],[-7.3,13.5],[-7.3,13.2],[-3,14.8],[-2,15],[-1,14.7],[-1.8,13],[12.4,17.2],[20.4,24.9],[26.5,17.6],[29.1,13.5],[-17.4,24.6],[-16.2,23.8],[-12.9,19.8],[-22,13.1],
[-29.9,-2.4],[-31,-3],[-26.2,-2.3],[-22.9,-10.9],[-29.8,-10],[-16.5,-12],[-19.6,-8.3],[-20.6,-7.9],[-27.4,-5.7],[-24.1,-6.8],[-24.9,-9.4],[-25.7,-10.6],[-14,-5],[-13.5,-5.5],[-25.1,-14.5],[-20.9,-14.9],[-17.7,-16],[-10.8,-19],[-16.5,-18.4],[-18.85,-18.4],[-20,-19.4],[-17.3,-25.6],[-16,-25.1],[-14.9,-24.5],[-9.8,-27],[-10.2,-28.9]];
const clickbait=[[-33.2,2],[-14.6,-0.6],[-12.4,-1.7],[-10.6,-2],[-9.8,-0.8],[-10.1,-7.3],[-16.1,5.4],[-6.1,0.7],[-5.9,4.4],[-9.8,-0.7],[-10.6,-2],[-6.1,-2],[-5.2,-2.7],[0.3,-2.4],[1,-2.4],[0.8,-2.8],[0.2,-3.7],[0.6,-4],[-1.2,-4.3],[-0.4,-4.6],[-3.9,-4.3],[-2.9,-5],[-2.4,-5.2],[-2,-5.9],[1.8,-4.2],[2.2,-4.6],[1.4,-4.9],[2.1,-5.4],[0,-5.4],[0.2,-5.8],[-9,-5.2],[-8.5,-5.2],[-7.9,-5],[-5,-5.7],[-4.5,-5.6],[-4.4,-5.9],[-6.4,-6.3],[-6.4,-7.2],[2.6,-6.1],[2.3,-6.8],[2.8,-7.2],[3,-7.6],[3.5,-7.8],[-2.4,-7.1],[-0.7,-6.9],[-1.1,-7.3],[0.7,-7.6],[0.6,-8.4],[0.3,-9],[0.2,-9.7],[-4.2,-7.5],[-3.7,-8.2],[-8.7,-8.3],[-9.2,-8.7],[-5,-8],[-5.4,-8.4],[-6,-9],[-5.5,-9.1],[-1.7,-8.5],[-2.6,-8.9],[-3.2,-9.3],[-2.9,-9.7],[2,-9.1],[2.5,-9.2],[1,-9.8],[1.3,-10.4],[1,-11],[-6.3,-10],[-7,-10.7],[-6.7,-10.8],[4,-10.4],[4.6,-10.4],[4.4,-11],[4.9,-11.4],[-1.9,-10.2],[-2.2,-10.3],[-1.6,-11],[-1.2,-11.4],[-0.8,-11],[2.3,-10.9],[2.1,-11.1],[-3.8,-11.6],[-3.2,-11.4],[-2.6,-11.2],[-2.5,-11.6],[3.8,-11.7],[6.2,-11.8],
[-5.4,-12.4],[-2.8,-12.9],[-2.3,-13.2],[-3.4,-13.9],[-2.8,-14],[-2.7,-14.5],[-2.8,-14.8],[-1.5,-12.4],[-0.1,-12.3],[0.4,-12.3],[0.9,-12.4],[-4.2,-15.1],[-2,-15.3],[-1.2,-15.8],[-5.3,-15.6],[0.2,-13.9],[0.1,-14.5],[-0.3,-14.6],[1.6,-13.9],[2.5,-14.4],[2.8,-14.7],[2.7,-15.3],[3.4,-13.6],[3.9,-13.3],[5,-12.9],[5.2,-13.5],[3.9,-14.3],[4.2,-14.7],[5.3,-14.9],[6.2,-15.3],[6.7,-15.5],[7,-15.7],[7.2,-13.8],[7.7,-14.4],[7.4,-14.7],[8.1,-14.7],[8.9,-13.9],[8.7,-15.3],[8.2,-15.9],[8.9,-16.1],[9.6,-15],[10.3,-14.8],[0.4,-15.5],[0.8,-15.8],[1.1,-16.1],[1.6,-16.1],[-0.3,-16.3],[0.1,-16.2],[4.1,-16],[3.6,-16.6],[3.4,-17.1],[5.9,-16.5],[6.1,-16.9],[5.3,-17.4],[-3.9,-17],[-3.2,-17.2],[-2.7,-17.4],[-2.7,-17.7],[-0.6,-17.5],[-0.2,-17.6],[-0.2,-18.1],[0.4,-18.2],[-5.4,-17],[-5.4,-18.2],[7.7,-17.6],[8.2,-17.7],[8.8,-18.4],[9.1,-18.4],[8.2,-18.9],[10.6,-16.3],[11,-16.7],[11.6,-16.3],[12.4,-15.9],[12.8,-16.3],[13.6,-17],[13,-17.2],[12.4,-17.8],[12.8,-17.8],[13.3,-18.5],[14.9,-17.7],[15,-18.3],[14.6,-18.6],[15.4,-18.8],[3.3,-18.1],[2.9,-18.6],[3.6,-18.4],[3.9,-18.5],[4.7,-19.1],[5.3,-19.4],[6,-19.6],[6.8,-19.4],[6.4,-20],[6.9,-20.3],[5.9,-20.5],[10.4,-18.5],[10.8,-18.8],[11.1,-19.3],[10.5,-19.7],[11.4,-19.8],[11.8,-19.5],[9.2,-20.2],[-2.2,-18.5],[-2.6,-18.7],[-2.5,-19.1],[-3.2,-19.7],[-2.9,-19.9],[-4.2,-19.8],[0.6,-19.6],[0.1,-20.3],[1.1,-20.3],[1.7,-20.2],[-0.2,-20.8],[-0.2,-21.3],[0.2,-21.3],[1.2,-21.3],[3.1,-20.5],[3.6,-20.9],[2.1,-21.9],[-5.4,-20.4],[-4.9,-20.5],[-4.4,-20.5],[-4.4,-21.4],[-3.9,-21.6],[-3,-21.3],[-2.7,-21.3],[-2.3,-21.5],[-1.9,-22],[3.8,-22.7],[4.2,-22.9],[4.7,-22.7],[4.9,-22.3],[6.8,-21.6],[7.1,-21.5],[8.2,-21.7],[8.8,-22.1],[8.3,-22.7],[8.1,-23.2],[10.2,-21.5],[11.7,-21.3],[11.8,-20.6],[12.4,-21],[12.5,-21.6],[13.4,-20.7],[14,-20.7],[14.9,-20.8],[15.7,-20.5],[15.3,-21.4],[18,-20.8],[12.9,-22.5],[14.2,-22.9],[15,-22.8],[15.7,-22.9],[-5.4,-22.7],[-4.5,-23.3],[-5,-23.8],[-4,-24.1],[-3.6,-23.9],[-3,-23.8],[-2.6,-23.8],[-2.1,-23.9],[-0.9,-24],[0.1,-23.6],[-0.1,-24.4],[0.5,-23],[1.2,-23],[1.3,-23.8],[4.4,-23.8],[3.3,-24.3],[4.2,-24.6],[4.4,-25.1],[9.4,-23.2],[9.7,-23.3],[9.8,-24.2],[10.9,-22.7],[11,-23.1],[11.2,-23.8],[11.4,-24.3],[11.1,-24.7],[12.1,-24.9],[7,-24],[7.4,-24.1],[8.2,-24.3],[8.1,-25.3],[9.1,-24.9],[9.4,-25.3],[10.2,-25.4],[15,-23.9],[14.6,-24.5],[15.5,-24.5],[17.1,-24.3],[18,-23.8],[18.4,-24.4],[18.3,-25.4],[13.6,-25.3],[14.3,-25.5],[14.5,-26],[1.5,-24.6],[1.6,-25.5],[1.4,-26],[1.7,-26.7],[2.5,-26],[-1.7,-25.5],[0.2,-25.4],[-0.6,-26.2],[0.3,-26.2],[-0.9,-27],[0.1,-27],[-0.6,-27.4],[-5.2,-25.9],[-4.6,-26.2],[-4.7,-26.9],[-3.9,-26.6],[-3.4,-26.3],[4.3,-26.2],[4.3,-26.8],[3.8,-27],[3.6,-27.8],[5.1,-27.2],[5.7,-27.2],[6.1,-26.1],[6.7,-26.2],[6.7,-27],[7.7,-26.8],[7.6,-27.5],[8.7,-27.5],[8.9,-27.9],[10.6,-26.5],[10.3,-26.9],[11.8,-27.4],[12.7,-26.9],[12.2,-27.6],[15.5,-26.4],[16.5,-26.2],[16,-26.9],[15.9,-27.5],[15.8,-28],[15.3,-28.6],[14.9,-29],[14.4,-29.3],[14.1,-29.5],[17.3,-27.4],[-4.4,-28.2],[-4.1,-28.8],[-3.9,-29.3],[-4,-30.3],[-0.1,-28.2],[0.1,-28.4],[1.9,-28.6],[2.7,-28.5],[1.8,-29.1],[7,-28.3],[5.8,-29.4],[-1.6,-30.8],[-1,-31],[0.6,-30.7],[1.1,-30.9],[1.5,-30.8],[1.7,-31.4],[2,-30.9],[2.5,-30.9],[3.3,-30.6],[3.9,-31],[4.3,-30.6],[0.3,-31.4],[0.5,-32.2],[0.1,-31.7],[3.9,-32],[6.4,-30.5],[6.7,-30.9],[7.4,-30.6],[7.8,-31.5],[6.6,-31.7],[7.1,-31.9],[7.5,-31.9],[8.8,-31.1],[10.2,-30.7],[10.8,-30.2],[11.2,-30.3],[17.1,-24.3],[19,-24.2],[18.1,-25],[18.8,-25.3],[17.2,-27.3],
[8.3,-22.3],[8.1,-22.8],[1.4,-25.1],[1.5,-26.4],[-0.5,-24],[15.6,-28.3],[14.6,-29.2],[16,-27.2],[12.5,-17],[1,-30.8],[-1.3,-30.9],[0.5,-31.2],[7.2,-31.7],[3.5,-13.5],[3.7,-27.4],[5.4,-27.2],[4.3,-26.5]];
const seriesData=[hoax,satire,realNews,propaganda,clickbait];
const legendPlugin={id:'figureText',afterDatasetsDraw(chart){
  const ctx=chart.ctx;ctx.save();
  seriesNames.forEach((n,i)=>{
    const cy=147+i*124;
    ctx.fillStyle=seriesColors[i];ctx.beginPath();ctx.arc(205,cy,23.5,0,Math.PI*2);ctx.fill();
    ctx.fillStyle='#262626';ctx.font='102.5px "Liberation Sans"';ctx.textAlign='left';ctx.textBaseline='alphabetic';
    ctx.fillText(n,311,cy+26);
  });
  ctx.fillStyle='#000';ctx.font='133.5px "Liberation Serif"';ctx.textAlign='left';ctx.textBaseline='alphabetic';
  ctx.fillText('at the last epoch',2905,3804);
  ctx.restore();
}};
const bgPlugin={id:'bg',beforeDraw(chart){const a=chart.chartArea,c=chart.ctx;c.save();c.fillStyle='#EAEAF2';c.fillRect(a.left,a.top,a.right-a.left,a.bottom-a.top);c.restore();}};
const axis=(min,max,vals)=>({type:'linear',min,max,border:{display:false},
  grid:{color:'#fff',lineWidth:8,drawTicks:false},
  ticks:{display:false,autoSkip:false},
  afterBuildTicks(s){s.ticks=vals.map(v=>({value:v}));}});
new Chart(document.getElementById('c'),{type:'scatter',
  data:{datasets:seriesNames.map((n,i)=>({label:n,order:5-i,data:seriesData[i].map(p=>({x:p[0],y:p[1]})),backgroundColor:seriesColors[i],borderWidth:0,pointRadius:24,pointHoverRadius:24}))},
  options:{responsive:false,animation:false,devicePixelRatio:1,
    layout:{autoPadding:false,padding:{left:9,right:14,top:8,bottom:11}},
    scales:{x:axis(-36.86,36.26,xTickValues),y:axis(-36.02,39.52,yTickValues)},
    plugins:{legend:{display:false},tooltip:{enabled:false}}},
  plugins:[bgPlugin,legendPlugin]});
</script></body></html>
